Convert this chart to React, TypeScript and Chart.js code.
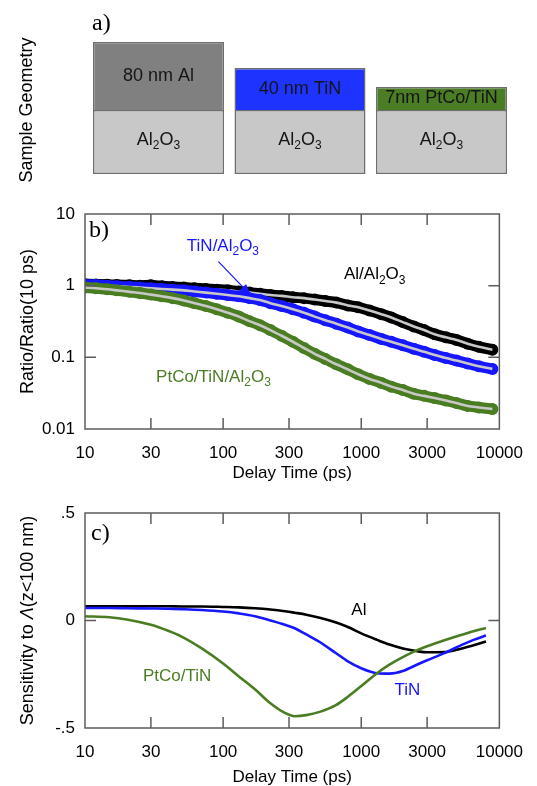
import React, { useEffect, useRef } from 'react';
import { Chart, registerables } from 'chart.js';
Chart.register(...registerables);

const SANS = "'Liberation Sans', Arial, Helvetica, sans-serif";
const SERIF = "'Liberation Serif', 'Times New Roman', Times, serif";

const BLACK = '#000000';
const BLUE = '#1616ff';
const GREEN = '#4a7d22';
const FIT_GRAY = '#c8c8c8';
const FRAME = '#5c5c5c';

// ---------- panel a : sample geometry ----------
const sampleNames = ['Al', 'TiN', 'PtCo/TiN'];
const substrateHeight = [64, 64, 64];
const filmHeight = [68, 42, 23];
const filmLabels = ['80 nm Al', '40 nm TiN', '7nm PtCo/TiN'];
const filmColors = ['#808080', '#1f33ff', '#4b7d24'];
const substrateColor = '#c8c8c8';

// ---------- panel b : ratio vs delay ----------
const ratioTimes = [10, 12, 14.5, 17, 21, 25, 30, 36, 43, 52, 62, 75, 90, 108, 130, 155, 185, 220, 265, 320, 385, 460, 550, 660, 800, 950, 1150, 1400, 1650, 2000, 2400, 2850, 3400, 4100, 4900, 5900, 7100, 8900];
const ratioAl = [1.05, 1.04, 1.03, 1.02, 1.01, 1.0, 1.01, 0.98, 0.96, 0.94, 0.92, 0.9, 0.88, 0.86, 0.83, 0.8, 0.77, 0.74, 0.72, 0.69, 0.67, 0.64, 0.61, 0.58, 0.53, 0.5, 0.45, 0.4, 0.36, 0.31, 0.27, 0.24, 0.21, 0.19, 0.175, 0.155, 0.14, 0.128];
const ratioTiN = [1.03, 1.02, 1.0, 0.98, 0.96, 0.94, 0.92, 0.9, 0.88, 0.86, 0.83, 0.8, 0.77, 0.74, 0.71, 0.67, 0.63, 0.57, 0.52, 0.47, 0.42, 0.37, 0.33, 0.295, 0.26, 0.23, 0.205, 0.18, 0.165, 0.147, 0.132, 0.12, 0.108, 0.098, 0.09, 0.082, 0.075, 0.069];
const ratioPtCo = [0.94, 0.92, 0.89, 0.86, 0.82, 0.79, 0.75, 0.71, 0.67, 0.62, 0.57, 0.52, 0.47, 0.42, 0.37, 0.32, 0.28, 0.24, 0.2, 0.165, 0.135, 0.112, 0.095, 0.08, 0.068, 0.058, 0.05, 0.044, 0.039, 0.035, 0.031, 0.029, 0.027, 0.025, 0.023, 0.021, 0.02, 0.019];
const delayTicks = [10, 30, 100, 300, 1000, 3000, 10000];
const delayTickLabels = ['10', '30', '100', '300', '1000', '3000', '10000'];
const ratioTicks = [0.01, 0.1, 1, 10];
const ratioTickLabels = ['0.01', '0.1', '1', '10'];

// ---------- panel c : sensitivity ----------
const sensTimes = [10, 15, 20, 30, 40, 50, 70, 100, 130, 170, 220, 280, 330, 400, 500, 650, 800, 1000, 1300, 1600, 2000, 2500, 3000, 4000, 5000, 6500, 8000];
const sensAl = [0.066, 0.066, 0.066, 0.066, 0.066, 0.065, 0.065, 0.063, 0.061, 0.057, 0.051, 0.043, 0.036, 0.027, 0.013, -0.008, -0.03, -0.06, -0.09, -0.112, -0.13, -0.142, -0.148, -0.147, -0.135, -0.115, -0.098];
const sensTiN = [0.058, 0.058, 0.057, 0.056, 0.055, 0.053, 0.049, 0.042, 0.033, 0.02, 0.0, -0.02, -0.036, -0.065, -0.1, -0.15, -0.19, -0.222, -0.245, -0.247, -0.235, -0.207, -0.185, -0.152, -0.122, -0.09, -0.07];
const sensPtCo = [0.02, 0.015, 0.005, -0.02, -0.048, -0.075, -0.13, -0.2, -0.26, -0.32, -0.385, -0.43, -0.445, -0.44, -0.425, -0.395, -0.355, -0.305, -0.245, -0.205, -0.17, -0.14, -0.12, -0.092, -0.072, -0.05, -0.035];
const sensTicks = [-0.5, 0, 0.5];
const sensTickLabels = ['-.5', '0', '.5'];

type Seg = { t: string; sub?: boolean; it?: boolean };
const AL2O3: Seg[] = [{ t: 'Al' }, { t: '2', sub: true }, { t: 'O' }, { t: '3', sub: true }];

function segFont(s: Seg, size: number) {
  return `${s.it ? 'italic ' : ''}${s.sub ? Math.round(size * 0.68) : size}px ${SANS}`;
}

function drawRich(ctx: CanvasRenderingContext2D, segs: Seg[], x: number, y: number, size: number, color: string, align: 'left' | 'center' | 'right' = 'left') {
  ctx.save();
  ctx.fillStyle = color;
  ctx.textBaseline = 'middle';
  ctx.textAlign = 'left';
  let w = 0;
  for (const s of segs) {
    ctx.font = segFont(s, size);
    w += ctx.measureText(s.t).width;
  }
  let cx = align === 'center' ? x - w / 2 : align === 'right' ? x - w : x;
  for (const s of segs) {
    ctx.font = segFont(s, size);
    ctx.fillText(s.t, cx, s.sub ? y + size * 0.32 : y);
    cx += ctx.measureText(s.t).width;
  }
  ctx.restore();
}

function drawPanelLetter(ctx: CanvasRenderingContext2D, text: string, x: number, y: number) {
  ctx.save();
  ctx.font = `24px ${SERIF}`;
  ctx.fillStyle = '#000';
  ctx.textAlign = 'left';
  ctx.textBaseline = 'alphabetic';
  ctx.fillText(text, x, y);
  ctx.restore();
}

function framePlugin(xTicks: number[], yTicks: number[]) {
  return {
    id: 'frameTicks',
    afterDatasetsDraw(chart: any) {
      const { ctx, chartArea: a, scales } = chart;
      const xs = scales.x;
      const ys = scales.y;
      const L = 11;
      ctx.save();
      ctx.strokeStyle = FRAME;
      ctx.lineWidth = 1.5;
      ctx.strokeRect(a.left, a.top, a.right - a.left, a.bottom - a.top);
      ctx.beginPath();
      for (const v of xTicks) {
        const px = xs.getPixelForValue(v);
        if (px <= a.left + 1 || px >= a.right - 1) continue;
        ctx.moveTo(px, a.bottom);
        ctx.lineTo(px, a.bottom - L);
        ctx.moveTo(px, a.top);
        ctx.lineTo(px, a.top + L);
      }
      for (const v of yTicks) {
        const py = ys.getPixelForValue(v);
        if (py <= a.top + 1 || py >= a.bottom - 1) continue;
        ctx.moveTo(a.left, py);
        ctx.lineTo(a.left + L, py);
        ctx.moveTo(a.right, py);
        ctx.lineTo(a.right - L, py);
      }
      ctx.stroke();
      ctx.restore();
    },
  };
}

function pts(times: number[], vals: number[]) {
  return times.map((t, i) => ({ x: t, y: vals[i] }));
}

function configA(): any {
  return {
    type: 'bar',
    data: {
      labels: sampleNames,
      datasets: [
        {
          label: 'substrate',
          data: substrateHeight,
          backgroundColor: substrateColor,
          borderColor: '#6e6e6e',
          borderWidth: 1.5,
          borderSkipped: false,
          barPercentage: 1,
          categoryPercentage: 0.926,
          stack: 's',
        },
        {
          label: 'film',
          data: filmHeight,
          backgroundColor: filmColors,
          borderColor: '#6e6e6e',
          borderWidth: 1.5,
          borderSkipped: 'start',
          barPercentage: 1,
          categoryPercentage: 0.926,
          stack: 's',
        },
      ],
    },
    options: {
      responsive: false,
      animation: false,
      devicePixelRatio: 1,
      events: [],
      layout: { padding: { left: 87.75, right: 24.75, top: 42, bottom: 16 } },
      scales: {
        x: { display: false, stacked: true },
        y: { display: false, stacked: true, min: 0, max: 132 },
      },
      plugins: { legend: { display: false }, tooltip: { enabled: false } },
    },
    plugins: [
      {
        id: 'geomLabels',
        afterDatasetsDraw(chart: any) {
          const ctx = chart.ctx as CanvasRenderingContext2D;
          const subMeta = chart.getDatasetMeta(0);
          const filmMeta = chart.getDatasetMeta(1);
          filmMeta.data.forEach((bar: any, i: number) => {
            const p = bar.getProps(['x', 'y', 'base'], true);
            drawRich(ctx, [{ t: filmLabels[i] }], p.x, (p.y + p.base) / 2, 18, '#151515', 'center');
          });
          subMeta.data.forEach((bar: any) => {
            const p = bar.getProps(['x', 'y', 'base'], true);
            drawRich(ctx, AL2O3, p.x, (p.y + p.base) / 2 - 2, 18, '#151515', 'center');
          });
          ctx.save();
          ctx.translate(27, 110);
          ctx.rotate(-Math.PI / 2);
          drawRich(ctx, [{ t: 'Sample Geometry' }], 0, 0, 18, '#000', 'center');
          ctx.restore();
          drawPanelLetter(ctx, 'a)', 92, 30);
        },
      },
    ],
  };
}

function bandSets(times: number[], vals: number[], color: string) {
  return [
    {
      data: pts(times, vals),
      showLine: true,
      borderColor: FIT_GRAY,
      borderWidth: 2.6,
      pointRadius: 0,
      cubicInterpolationMode: 'monotone',
    },
    {
      data: pts(times, vals),
      showLine: true,
      borderColor: color,
      borderWidth: 11,
      borderCapStyle: 'round',
      borderJoinStyle: 'round',
      pointRadius: 6,
      pointBackgroundColor: color,
      pointBorderWidth: 0,
      cubicInterpolationMode: 'monotone',
    },
  ];
}

function xScale(height: number, titlePadBottom: number): any {
  return {
    type: 'logarithmic',
    min: 10,
    max: 10000,
    afterBuildTicks: (s: any) => {
      s.ticks = delayTicks.map((v) => ({ value: v }));
    },
    afterFit: (s: any) => {
      s.height = height;
    },
    ticks: {
      callback: (_v: any, i: number) => delayTickLabels[i],
      font: { family: SANS, size: 17 },
      color: '#000',
      padding: 14,
      maxRotation: 0,
      minRotation: 0,
      autoSkip: false,
    },
    grid: { display: false, drawTicks: false },
    border: { display: false },
    title: {
      display: true,
      text: 'Delay Time (ps)',
      font: { family: SANS, size: 17 },
      color: '#000',
      padding: { top: 0, bottom: titlePadBottom },
    },
  };
}

function configB(): any {
  return {
    type: 'scatter',
    data: {
      datasets: [
        ...bandSets(ratioTimes, ratioPtCo, GREEN),
        ...bandSets(ratioTimes, ratioTiN, BLUE),
        ...bandSets(ratioTimes, ratioAl, BLACK),
      ],
    },
    options: {
      responsive: false,
      animation: false,
      devicePixelRatio: 1,
      events: [],
      layout: { padding: { left: 0, right: 33, top: 24, bottom: 0 } },
      scales: {
        x: xScale(61, 6),
        y: {
          type: 'logarithmic',
          min: 0.01,
          max: 10,
          afterBuildTicks: (s: any) => {
            s.ticks = ratioTicks.map((v) => ({ value: v }));
          },
          afterFit: (s: any) => {
            s.width = 85;
          },
          ticks: {
            callback: (_v: any, i: number) => ratioTickLabels[i],
            font: { family: SANS, size: 17 },
            color: '#000',
            padding: 10,
            autoSkip: false,
          },
          grid: { display: false, drawTicks: false },
          border: { display: false },
          title: {
            display: true,
            text: 'Ratio/Ratio(10 ps)',
            font: { family: SANS, size: 18 },
            color: '#000',
            padding: { top: 17, bottom: 0 },
          },
        },
      },
      plugins: { legend: { display: false }, tooltip: { enabled: false } },
    },
    plugins: [
      framePlugin(delayTicks, ratioTicks),
      {
        id: 'ratioNotes',
        afterDraw(chart: any) {
          const ctx = chart.ctx as CanvasRenderingContext2D;
          const { x, y } = chart.scales;
          const a = chart.chartArea;
          drawRich(ctx, [{ t: 'TiN/' }, ...AL2O3], x.getPixelForValue(54.6), y.getPixelForValue(3.5), 17, BLUE, 'left');
          drawRich(ctx, [{ t: 'Al/' }, ...AL2O3], x.getPixelForValue(750), y.getPixelForValue(1.42), 17, '#000', 'left');
          drawRich(ctx, [{ t: 'PtCo/TiN/' }, ...AL2O3], x.getPixelForValue(32.7), y.getPixelForValue(0.052), 17, GREEN, 'left');
          // arrow to TiN data
          const x1 = x.getPixelForValue(92.5), y1 = y.getPixelForValue(2.16);
          const x2 = x.getPixelForValue(159.6), y2 = y.getPixelForValue(0.725);
          const ang = Math.atan2(y2 - y1, x2 - x1);
          ctx.save();
          ctx.strokeStyle = BLUE;
          ctx.fillStyle = BLUE;
          ctx.lineWidth = 1.2;
          ctx.beginPath();
          ctx.moveTo(x1, y1);
          ctx.lineTo(x2 - 9 * Math.cos(ang), y2 - 9 * Math.sin(ang));
          ctx.stroke();
          ctx.beginPath();
          ctx.moveTo(x2, y2);
          ctx.lineTo(x2 - 12 * Math.cos(ang) + 4.5 * Math.sin(ang), y2 - 12 * Math.sin(ang) - 4.5 * Math.cos(ang));
          ctx.lineTo(x2 - 12 * Math.cos(ang) - 4.5 * Math.sin(ang), y2 - 12 * Math.sin(ang) + 4.5 * Math.cos(ang));
          ctx.closePath();
          ctx.fill();
          ctx.restore();
          drawPanelLetter(ctx, 'b)', a.left + 4, a.top + 23);
        },
      },
    ],
  };
}

function lineSet(times: number[], vals: number[], color: string) {
  return {
    data: pts(times, vals),
    showLine: true,
    borderColor: color,
    borderWidth: 2.6,
    pointRadius: 0,
    cubicInterpolationMode: 'monotone',
  };
}

function configC(): any {
  return {
    type: 'scatter',
    data: {
      datasets: [lineSet(sensTimes, sensPtCo, GREEN), lineSet(sensTimes, sensTiN, BLUE), lineSet(sensTimes, sensAl, BLACK)],
    },
    options: {
      responsive: false,
      animation: false,
      devicePixelRatio: 1,
      events: [],
      layout: { padding: { left: 0, right: 33, top: 23, bottom: 0 } },
      scales: {
        x: xScale(58, -2),
        y: {
          type: 'linear',
          min: -0.5,
          max: 0.5,
          afterBuildTicks: (s: any) => {
            s.ticks = sensTicks.map((v) => ({ value: v }));
          },
          afterFit: (s: any) => {
            s.width = 85;
          },
          ticks: {
            callback: (_v: any, i: number) => sensTickLabels[i],
            font: { family: SANS, size: 17 },
            color: '#000',
            padding: 10,
            autoSkip: false,
          },
          grid: { display: false, drawTicks: false },
          border: { display: false },
          title: { display: false },
        },
      },
      plugins: { legend: { display: false }, tooltip: { enabled: false } },
    },
    plugins: [
      framePlugin(delayTicks, sensTicks),
      {
        id: 'sensNotes',
        afterDraw(chart: any) {
          const ctx = chart.ctx as CanvasRenderingContext2D;
          const { x, y } = chart.scales;
          const a = chart.chartArea;
          drawRich(ctx, [{ t: 'Al' }], x.getPixelForValue(961), y.getPixelForValue(0.049), 17, '#000', 'center');
          drawRich(ctx, [{ t: 'TiN' }], x.getPixelForValue(2160), y.getPixelForValue(-0.323), 17, BLUE, 'center');
          drawRich(ctx, [{ t: 'PtCo/TiN' }], x.getPixelForValue(46.4), y.getPixelForValue(-0.258), 17, GREEN, 'center');
          ctx.save();
          ctx.translate(28, (a.top + a.bottom) / 2);
          ctx.rotate(-Math.PI / 2);
          drawRich(ctx, [{ t: 'Sensitivity to ' }, { t: 'Λ', it: true }, { t: '(z<100 nm)' }], 0, 0, 18, '#000', 'center');
          ctx.restore();
          drawPanelLetter(ctx, 'c)', a.left + 6, a.top + 27);
        },
      },
    ],
  };
}

export default function App() {
  const aRef = useRef<HTMLCanvasElement>(null);
  const bRef = useRef<HTMLCanvasElement>(null);
  const cRef = useRef<HTMLCanvasElement>(null);
  useEffect(() => {
    const charts = [
      new Chart(aRef.current as HTMLCanvasElement, configA()),
      new Chart(bRef.current as HTMLCanvasElement, configB()),
      new Chart(cRef.current as HTMLCanvasElement, configC()),
    ];
    return () => charts.forEach((c) => c.destroy());
  }, []);
  return (
    <div style={{ position: 'absolute', left: 0, top: 0, width: 537, height: 786, background: '#fff' }}>
      <canvas ref={aRef} width={537} height={190} style={{ position: 'absolute', left: 0, top: 0 }} />
      <canvas ref={bRef} width={537} height={300} style={{ position: 'absolute', left: 0, top: 190 }} />
      <canvas ref={cRef} width={537} height={296} style={{ position: 'absolute', left: 0, top: 490 }} />
    </div>
  );
}
